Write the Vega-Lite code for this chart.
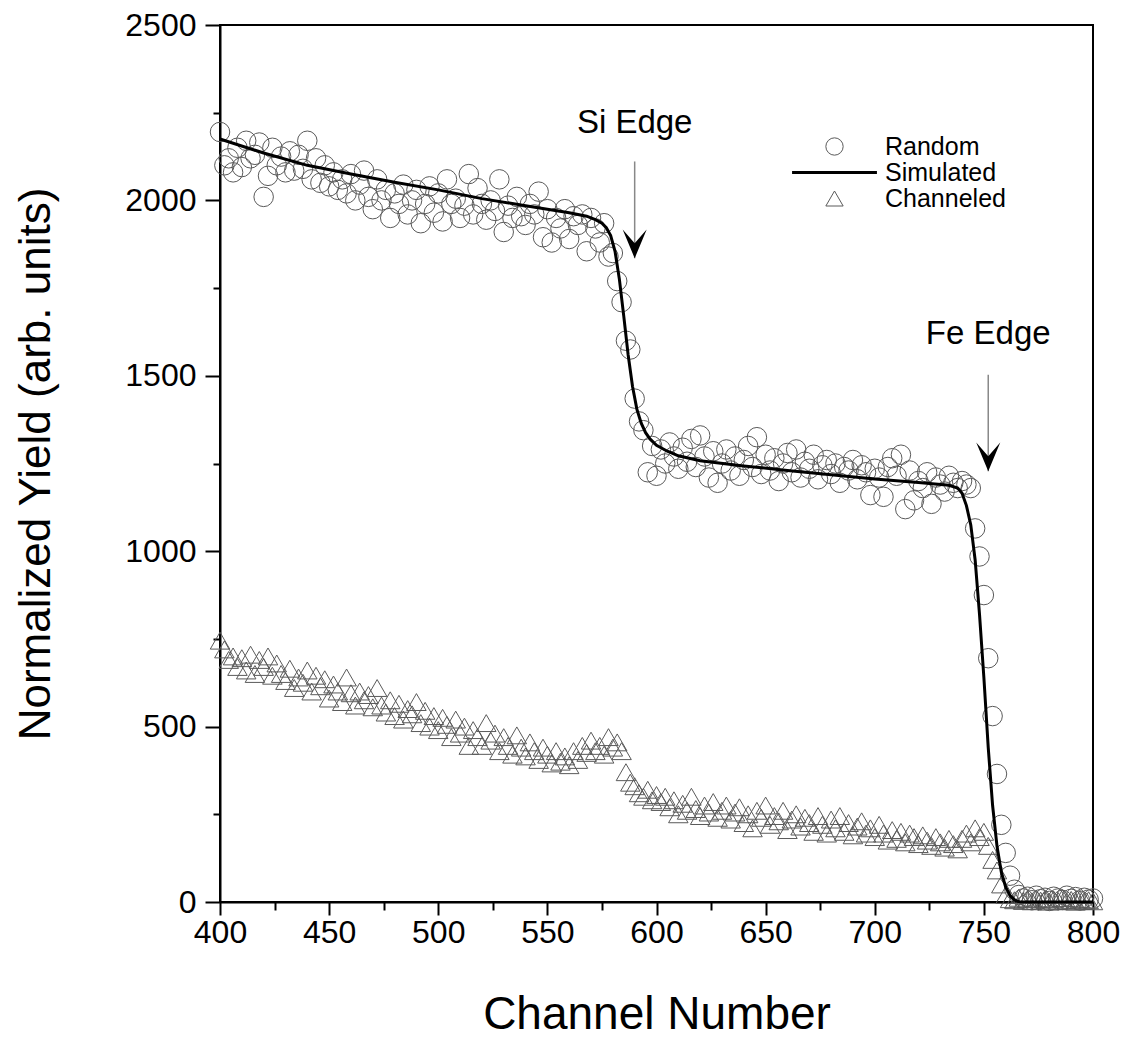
{
  "$schema": "https://vega.github.io/schema/vega-lite/v6.json",
  "autosize": "none",
  "width": 873,
  "height": 877,
  "padding": {"left": 220, "top": 25, "right": 37, "bottom": 149},
  "background": "white",
  "config": {
    "view": {"stroke": "black", "strokeWidth": 2},
    "font": "Liberation Sans",
    "axis": {
      "labelFont": "Liberation Sans", "titleFont": "Liberation Sans",
      "labelFontSize": 32, "titleFontWeight": "normal",
      "labelColor": "black", "titleColor": "black",
      "domainColor": "black", "domainWidth": 2,
      "tickColor": "black", "tickWidth": 2, "grid": false
    },
    "legend": {"labelFont": "Liberation Sans", "labelFontSize": 25, "labelColor": "black"}
  },
  "datasets": {
    "pts": [
      {"x":400,"y":2195,"s":"Random"},{"x":402,"y":2100,"s":"Random"},{"x":404,"y":2120,"s":"Random"},{"x":406,"y":2080,"s":"Random"},{"x":408,"y":2150,"s":"Random"},{"x":410,"y":2095,"s":"Random"},{"x":412,"y":2170,"s":"Random"},{"x":414,"y":2120,"s":"Random"},{"x":416,"y":2130,"s":"Random"},{"x":418,"y":2165,"s":"Random"},
      {"x":420,"y":2010,"s":"Random"},{"x":422,"y":2070,"s":"Random"},{"x":424,"y":2150,"s":"Random"},{"x":426,"y":2100,"s":"Random"},{"x":428,"y":2125,"s":"Random"},{"x":430,"y":2080,"s":"Random"},{"x":432,"y":2140,"s":"Random"},{"x":434,"y":2085,"s":"Random"},{"x":436,"y":2130,"s":"Random"},{"x":438,"y":2090,"s":"Random"},
      {"x":440,"y":2170,"s":"Random"},{"x":442,"y":2060,"s":"Random"},{"x":444,"y":2120,"s":"Random"},{"x":446,"y":2050,"s":"Random"},{"x":448,"y":2100,"s":"Random"},{"x":450,"y":2040,"s":"Random"},{"x":452,"y":2080,"s":"Random"},{"x":454,"y":2030,"s":"Random"},{"x":456,"y":2060,"s":"Random"},{"x":458,"y":2020,"s":"Random"},
      {"x":460,"y":2075,"s":"Random"},{"x":462,"y":2000,"s":"Random"},{"x":464,"y":2045,"s":"Random"},{"x":466,"y":2085,"s":"Random"},{"x":468,"y":2010,"s":"Random"},{"x":470,"y":1975,"s":"Random"},{"x":472,"y":2060,"s":"Random"},{"x":474,"y":2000,"s":"Random"},{"x":476,"y":2030,"s":"Random"},{"x":478,"y":1950,"s":"Random"},
      {"x":480,"y":2020,"s":"Random"},{"x":482,"y":1990,"s":"Random"},{"x":484,"y":2045,"s":"Random"},{"x":486,"y":1960,"s":"Random"},{"x":488,"y":2000,"s":"Random"},{"x":490,"y":2030,"s":"Random"},{"x":492,"y":1935,"s":"Random"},{"x":494,"y":1990,"s":"Random"},{"x":496,"y":2040,"s":"Random"},{"x":498,"y":1965,"s":"Random"},
      {"x":500,"y":2020,"s":"Random"},{"x":502,"y":1940,"s":"Random"},{"x":504,"y":2060,"s":"Random"},{"x":506,"y":1990,"s":"Random"},{"x":508,"y":2005,"s":"Random"},{"x":510,"y":1950,"s":"Random"},{"x":512,"y":1985,"s":"Random"},{"x":514,"y":2075,"s":"Random"},{"x":516,"y":1960,"s":"Random"},{"x":518,"y":2035,"s":"Random"},
      {"x":520,"y":1990,"s":"Random"},{"x":522,"y":1945,"s":"Random"},{"x":524,"y":2000,"s":"Random"},{"x":526,"y":1970,"s":"Random"},{"x":528,"y":2060,"s":"Random"},{"x":530,"y":1910,"s":"Random"},{"x":532,"y":1985,"s":"Random"},{"x":534,"y":1950,"s":"Random"},{"x":536,"y":2010,"s":"Random"},{"x":538,"y":1955,"s":"Random"},
      {"x":540,"y":1930,"s":"Random"},{"x":542,"y":1990,"s":"Random"},{"x":544,"y":1960,"s":"Random"},{"x":546,"y":2025,"s":"Random"},{"x":548,"y":1895,"s":"Random"},{"x":550,"y":1975,"s":"Random"},{"x":552,"y":1880,"s":"Random"},{"x":554,"y":1950,"s":"Random"},{"x":556,"y":1920,"s":"Random"},{"x":558,"y":1975,"s":"Random"},
      {"x":560,"y":1890,"s":"Random"},{"x":562,"y":1955,"s":"Random"},{"x":564,"y":1930,"s":"Random"},{"x":566,"y":1960,"s":"Random"},{"x":568,"y":1855,"s":"Random"},{"x":570,"y":1950,"s":"Random"},{"x":572,"y":1920,"s":"Random"},{"x":574,"y":1880,"s":"Random"},{"x":576,"y":1935,"s":"Random"},{"x":578,"y":1840,"s":"Random"},
      {"x":580,"y":1850,"s":"Random"},{"x":582,"y":1770,"s":"Random"},{"x":584,"y":1710,"s":"Random"},{"x":586,"y":1600,"s":"Random"},{"x":588,"y":1575,"s":"Random"},{"x":590,"y":1435,"s":"Random"},{"x":592,"y":1370,"s":"Random"},{"x":594,"y":1345,"s":"Random"},{"x":596,"y":1225,"s":"Random"},{"x":598,"y":1300,"s":"Random"},
      {"x":600,"y":1215,"s":"Random"},{"x":602,"y":1290,"s":"Random"},{"x":604,"y":1250,"s":"Random"},{"x":606,"y":1310,"s":"Random"},{"x":608,"y":1270,"s":"Random"},{"x":610,"y":1235,"s":"Random"},{"x":612,"y":1295,"s":"Random"},{"x":614,"y":1255,"s":"Random"},{"x":616,"y":1320,"s":"Random"},{"x":618,"y":1240,"s":"Random"},
      {"x":620,"y":1330,"s":"Random"},{"x":622,"y":1270,"s":"Random"},{"x":624,"y":1210,"s":"Random"},{"x":626,"y":1285,"s":"Random"},{"x":628,"y":1195,"s":"Random"},{"x":630,"y":1250,"s":"Random"},{"x":632,"y":1290,"s":"Random"},{"x":634,"y":1230,"s":"Random"},{"x":636,"y":1270,"s":"Random"},{"x":638,"y":1215,"s":"Random"},
      {"x":640,"y":1260,"s":"Random"},{"x":642,"y":1300,"s":"Random"},{"x":644,"y":1240,"s":"Random"},{"x":646,"y":1325,"s":"Random"},{"x":648,"y":1220,"s":"Random"},{"x":650,"y":1275,"s":"Random"},{"x":652,"y":1230,"s":"Random"},{"x":654,"y":1265,"s":"Random"},{"x":656,"y":1200,"s":"Random"},{"x":658,"y":1250,"s":"Random"},
      {"x":660,"y":1280,"s":"Random"},{"x":662,"y":1225,"s":"Random"},{"x":664,"y":1290,"s":"Random"},{"x":666,"y":1210,"s":"Random"},{"x":668,"y":1255,"s":"Random"},{"x":670,"y":1235,"s":"Random"},{"x":672,"y":1275,"s":"Random"},{"x":674,"y":1205,"s":"Random"},{"x":676,"y":1245,"s":"Random"},{"x":678,"y":1260,"s":"Random"},
      {"x":680,"y":1220,"s":"Random"},{"x":682,"y":1250,"s":"Random"},{"x":684,"y":1195,"s":"Random"},{"x":686,"y":1240,"s":"Random"},{"x":688,"y":1230,"s":"Random"},{"x":690,"y":1260,"s":"Random"},{"x":692,"y":1205,"s":"Random"},{"x":694,"y":1245,"s":"Random"},{"x":696,"y":1225,"s":"Random"},{"x":698,"y":1160,"s":"Random"},
      {"x":700,"y":1235,"s":"Random"},{"x":702,"y":1210,"s":"Random"},{"x":704,"y":1155,"s":"Random"},{"x":706,"y":1240,"s":"Random"},{"x":708,"y":1265,"s":"Random"},{"x":710,"y":1215,"s":"Random"},{"x":712,"y":1275,"s":"Random"},{"x":714,"y":1120,"s":"Random"},{"x":716,"y":1230,"s":"Random"},{"x":718,"y":1145,"s":"Random"},
      {"x":720,"y":1200,"s":"Random"},{"x":722,"y":1180,"s":"Random"},{"x":724,"y":1225,"s":"Random"},{"x":726,"y":1135,"s":"Random"},{"x":728,"y":1210,"s":"Random"},{"x":730,"y":1190,"s":"Random"},{"x":732,"y":1170,"s":"Random"},{"x":734,"y":1215,"s":"Random"},{"x":736,"y":1195,"s":"Random"},{"x":738,"y":1180,"s":"Random"},
      {"x":740,"y":1200,"s":"Random"},{"x":742,"y":1190,"s":"Random"},{"x":744,"y":1180,"s":"Random"},{"x":746,"y":1065,"s":"Random"},{"x":748,"y":985,"s":"Random"},{"x":750,"y":875,"s":"Random"},{"x":752,"y":695,"s":"Random"},{"x":754,"y":530,"s":"Random"},{"x":756,"y":365,"s":"Random"},{"x":758,"y":220,"s":"Random"},
      {"x":760,"y":140,"s":"Random"},{"x":762,"y":75,"s":"Random"},{"x":764,"y":35,"s":"Random"},{"x":766,"y":20,"s":"Random"},{"x":768,"y":10,"s":"Random"},{"x":770,"y":15,"s":"Random"},{"x":772,"y":5,"s":"Random"},{"x":774,"y":18,"s":"Random"},{"x":776,"y":8,"s":"Random"},{"x":778,"y":12,"s":"Random"},
      {"x":780,"y":3,"s":"Random"},{"x":782,"y":15,"s":"Random"},{"x":784,"y":10,"s":"Random"},{"x":786,"y":6,"s":"Random"},{"x":788,"y":18,"s":"Random"},{"x":790,"y":9,"s":"Random"},{"x":792,"y":14,"s":"Random"},{"x":794,"y":4,"s":"Random"},{"x":796,"y":12,"s":"Random"},{"x":798,"y":7,"s":"Random"},{"x":800,"y":10,"s":"Random"},

      {"x":400,"y":745,"s":"Channeled"},{"x":402,"y":720,"s":"Channeled"},{"x":404,"y":690,"s":"Channeled"},{"x":406,"y":700,"s":"Channeled"},{"x":408,"y":670,"s":"Channeled"},{"x":410,"y":695,"s":"Channeled"},{"x":412,"y":660,"s":"Channeled"},{"x":414,"y":705,"s":"Channeled"},{"x":416,"y":650,"s":"Channeled"},{"x":418,"y":690,"s":"Channeled"},
      {"x":420,"y":670,"s":"Channeled"},{"x":422,"y":700,"s":"Channeled"},{"x":424,"y":645,"s":"Channeled"},{"x":426,"y":680,"s":"Channeled"},{"x":428,"y":650,"s":"Channeled"},{"x":430,"y":630,"s":"Channeled"},{"x":432,"y":665,"s":"Channeled"},{"x":434,"y":610,"s":"Channeled"},{"x":436,"y":640,"s":"Channeled"},{"x":438,"y":625,"s":"Channeled"},
      {"x":440,"y":660,"s":"Channeled"},{"x":442,"y":600,"s":"Channeled"},{"x":444,"y":645,"s":"Channeled"},{"x":446,"y":615,"s":"Channeled"},{"x":448,"y":635,"s":"Channeled"},{"x":450,"y":580,"s":"Channeled"},{"x":452,"y":620,"s":"Channeled"},{"x":454,"y":600,"s":"Channeled"},{"x":456,"y":570,"s":"Channeled"},{"x":458,"y":640,"s":"Channeled"},
      {"x":460,"y":595,"s":"Channeled"},{"x":462,"y":560,"s":"Channeled"},{"x":464,"y":600,"s":"Channeled"},{"x":466,"y":575,"s":"Channeled"},{"x":468,"y":590,"s":"Channeled"},{"x":470,"y":555,"s":"Channeled"},{"x":472,"y":610,"s":"Channeled"},{"x":474,"y":560,"s":"Channeled"},{"x":476,"y":540,"s":"Channeled"},{"x":478,"y":575,"s":"Channeled"},
      {"x":480,"y":530,"s":"Channeled"},{"x":482,"y":565,"s":"Channeled"},{"x":484,"y":520,"s":"Channeled"},{"x":486,"y":550,"s":"Channeled"},{"x":488,"y":535,"s":"Channeled"},{"x":490,"y":570,"s":"Channeled"},{"x":492,"y":510,"s":"Channeled"},{"x":494,"y":545,"s":"Channeled"},{"x":496,"y":500,"s":"Channeled"},{"x":498,"y":530,"s":"Channeled"},
      {"x":500,"y":490,"s":"Channeled"},{"x":502,"y":525,"s":"Channeled"},{"x":504,"y":505,"s":"Channeled"},{"x":506,"y":470,"s":"Channeled"},{"x":508,"y":520,"s":"Channeled"},{"x":510,"y":480,"s":"Channeled"},{"x":512,"y":500,"s":"Channeled"},{"x":514,"y":445,"s":"Channeled"},{"x":516,"y":490,"s":"Channeled"},{"x":518,"y":470,"s":"Channeled"},
      {"x":520,"y":445,"s":"Channeled"},{"x":522,"y":510,"s":"Channeled"},{"x":524,"y":460,"s":"Channeled"},{"x":526,"y":480,"s":"Channeled"},{"x":528,"y":430,"s":"Channeled"},{"x":530,"y":470,"s":"Channeled"},{"x":532,"y":445,"s":"Channeled"},{"x":534,"y":420,"s":"Channeled"},{"x":536,"y":475,"s":"Channeled"},{"x":538,"y":440,"s":"Channeled"},
      {"x":540,"y":415,"s":"Channeled"},{"x":542,"y":455,"s":"Channeled"},{"x":544,"y":430,"s":"Channeled"},{"x":546,"y":405,"s":"Channeled"},{"x":548,"y":440,"s":"Channeled"},{"x":550,"y":420,"s":"Channeled"},{"x":552,"y":395,"s":"Channeled"},{"x":554,"y":430,"s":"Channeled"},{"x":556,"y":400,"s":"Channeled"},{"x":558,"y":415,"s":"Channeled"},
      {"x":560,"y":390,"s":"Channeled"},{"x":562,"y":430,"s":"Channeled"},{"x":564,"y":405,"s":"Channeled"},{"x":566,"y":445,"s":"Channeled"},{"x":568,"y":425,"s":"Channeled"},{"x":570,"y":460,"s":"Channeled"},{"x":572,"y":430,"s":"Channeled"},{"x":574,"y":445,"s":"Channeled"},{"x":576,"y":420,"s":"Channeled"},{"x":578,"y":470,"s":"Channeled"},
      {"x":580,"y":440,"s":"Channeled"},{"x":582,"y":455,"s":"Channeled"},{"x":584,"y":430,"s":"Channeled"},{"x":586,"y":370,"s":"Channeled"},{"x":588,"y":340,"s":"Channeled"},{"x":590,"y":330,"s":"Channeled"},{"x":592,"y":310,"s":"Channeled"},{"x":594,"y":300,"s":"Channeled"},{"x":596,"y":320,"s":"Channeled"},{"x":598,"y":290,"s":"Channeled"},
      {"x":600,"y":305,"s":"Channeled"},{"x":602,"y":285,"s":"Channeled"},{"x":604,"y":300,"s":"Channeled"},{"x":606,"y":270,"s":"Channeled"},{"x":608,"y":290,"s":"Channeled"},{"x":610,"y":250,"s":"Channeled"},{"x":612,"y":280,"s":"Channeled"},{"x":614,"y":260,"s":"Channeled"},{"x":616,"y":300,"s":"Channeled"},{"x":618,"y":265,"s":"Channeled"},
      {"x":620,"y":245,"s":"Channeled"},{"x":622,"y":275,"s":"Channeled"},{"x":624,"y":255,"s":"Channeled"},{"x":626,"y":285,"s":"Channeled"},{"x":628,"y":240,"s":"Channeled"},{"x":630,"y":260,"s":"Channeled"},{"x":632,"y":275,"s":"Channeled"},{"x":634,"y":235,"s":"Channeled"},{"x":636,"y":255,"s":"Channeled"},{"x":638,"y":270,"s":"Channeled"},
      {"x":640,"y":225,"s":"Channeled"},{"x":642,"y":250,"s":"Channeled"},{"x":644,"y":210,"s":"Channeled"},{"x":646,"y":260,"s":"Channeled"},{"x":648,"y":240,"s":"Channeled"},{"x":650,"y":275,"s":"Channeled"},{"x":652,"y":220,"s":"Channeled"},{"x":654,"y":245,"s":"Channeled"},{"x":656,"y":230,"s":"Channeled"},{"x":658,"y":260,"s":"Channeled"},
      {"x":660,"y":205,"s":"Channeled"},{"x":662,"y":235,"s":"Channeled"},{"x":664,"y":250,"s":"Channeled"},{"x":666,"y":215,"s":"Channeled"},{"x":668,"y":240,"s":"Channeled"},{"x":670,"y":225,"s":"Channeled"},{"x":672,"y":200,"s":"Channeled"},{"x":674,"y":245,"s":"Channeled"},{"x":676,"y":220,"s":"Channeled"},{"x":678,"y":195,"s":"Channeled"},
      {"x":680,"y":235,"s":"Channeled"},{"x":682,"y":210,"s":"Channeled"},{"x":684,"y":245,"s":"Channeled"},{"x":686,"y":200,"s":"Channeled"},{"x":688,"y":225,"s":"Channeled"},{"x":690,"y":190,"s":"Channeled"},{"x":692,"y":215,"s":"Channeled"},{"x":694,"y":230,"s":"Channeled"},{"x":696,"y":195,"s":"Channeled"},{"x":698,"y":210,"s":"Channeled"},
      {"x":700,"y":185,"s":"Channeled"},{"x":702,"y":220,"s":"Channeled"},{"x":704,"y":195,"s":"Channeled"},{"x":706,"y":175,"s":"Channeled"},{"x":708,"y":205,"s":"Channeled"},{"x":710,"y":180,"s":"Channeled"},{"x":712,"y":200,"s":"Channeled"},{"x":714,"y":170,"s":"Channeled"},{"x":716,"y":195,"s":"Channeled"},{"x":718,"y":185,"s":"Channeled"},
      {"x":720,"y":165,"s":"Channeled"},{"x":722,"y":190,"s":"Channeled"},{"x":724,"y":175,"s":"Channeled"},{"x":726,"y":160,"s":"Channeled"},{"x":728,"y":185,"s":"Channeled"},{"x":730,"y":170,"s":"Channeled"},{"x":732,"y":155,"s":"Channeled"},{"x":734,"y":180,"s":"Channeled"},{"x":736,"y":165,"s":"Channeled"},{"x":738,"y":150,"s":"Channeled"},
      {"x":740,"y":180,"s":"Channeled"},{"x":742,"y":195,"s":"Channeled"},{"x":744,"y":170,"s":"Channeled"},{"x":746,"y":210,"s":"Channeled"},{"x":748,"y":185,"s":"Channeled"},{"x":750,"y":200,"s":"Channeled"},{"x":752,"y":160,"s":"Channeled"},{"x":754,"y":120,"s":"Channeled"},{"x":756,"y":90,"s":"Channeled"},{"x":758,"y":50,"s":"Channeled"},
      {"x":760,"y":20,"s":"Channeled"},{"x":762,"y":8,"s":"Channeled"},{"x":764,"y":5,"s":"Channeled"},{"x":766,"y":12,"s":"Channeled"},{"x":768,"y":3,"s":"Channeled"},{"x":770,"y":8,"s":"Channeled"},{"x":772,"y":2,"s":"Channeled"},{"x":774,"y":10,"s":"Channeled"},{"x":776,"y":4,"s":"Channeled"},{"x":778,"y":9,"s":"Channeled"},
      {"x":780,"y":1,"s":"Channeled"},{"x":782,"y":7,"s":"Channeled"},{"x":784,"y":3,"s":"Channeled"},{"x":786,"y":11,"s":"Channeled"},{"x":788,"y":2,"s":"Channeled"},{"x":790,"y":6,"s":"Channeled"},{"x":792,"y":1,"s":"Channeled"},{"x":794,"y":8,"s":"Channeled"},{"x":796,"y":3,"s":"Channeled"},{"x":798,"y":5,"s":"Channeled"},{"x":800,"y":2,"s":"Channeled"}
    ],
    "sim": [
      {"x":400,"y":2175},{"x":420,"y":2135},{"x":440,"y":2100},{"x":460,"y":2075},{"x":480,"y":2052},{"x":500,"y":2030},{"x":520,"y":2005},{"x":540,"y":1985},{"x":560,"y":1965},{"x":568,"y":1955},{"x":572,"y":1945},{"x":575,"y":1935},{"x":577,"y":1922},{"x":579,"y":1900},{"x":581,"y":1855},{"x":583,"y":1775},{"x":585,"y":1670},{"x":587,"y":1560},{"x":589,"y":1470},{"x":591,"y":1405},{"x":593,"y":1365},{"x":595,"y":1338},{"x":597,"y":1320},{"x":600,"y":1302},{"x":605,"y":1285},{"x":610,"y":1272},{"x":620,"y":1258},{"x":640,"y":1243},{"x":660,"y":1230},{"x":680,"y":1218},{"x":700,"y":1206},{"x":720,"y":1196},{"x":734,"y":1188},{"x":738,"y":1180},{"x":740,"y":1165},{"x":742,"y":1130},{"x":744,"y":1075},{"x":746,"y":975},{"x":748,"y":820},{"x":750,"y":640},{"x":752,"y":440},{"x":754,"y":275},{"x":756,"y":160},{"x":758,"y":85},{"x":760,"y":42},{"x":762,"y":18},{"x":764,"y":6},{"x":766,"y":1},{"x":770,"y":0},{"x":800,"y":0}
    ],
    "labels": [
      {"x":590,"y":2220,"t":"Si Edge"},
      {"x":752,"y":1618,"t":"Fe Edge"}
    ],
    "arrows": [
      {"x":590,"y":2111,"y2":1835},
      {"x":752,"y":1503,"y2":1228}
    ]
  },
  "resolve": {"axis": {"x": "independent", "y": "independent"}},
  "layer": [
    {
      "data": {"name": "pts"},
      "mark": {"type": "point", "filled": false, "clip": false, "size": 380, "opacity": 1},
      "encoding": {
        "x": {"field": "x", "type": "quantitative", "scale": {"domain": [400, 800], "nice": false, "zero": false},
          "axis": {"values": [400,450,500,550,600,650,700,750,800], "tickSize": 13, "labelPadding": 2, "title": "Channel Number", "titleFontSize": 46, "titlePadding": 44, "labelFlush": false, "labelOverlap": false, "orient": "bottom"}},
        "y": {"field": "y", "type": "quantitative", "scale": {"domain": [0, 2500], "nice": false},
          "axis": {"values": [0,500,1000,1500,2000,2500], "format": "d", "tickSize": 15, "labelPadding": 9, "title": "Normalized Yield (arb. units)", "titleFontSize": 44, "titlePadding": 66, "labelFlush": false, "labelOverlap": false, "orient": "left"}},
        "shape": {"field": "s", "type": "nominal",
          "scale": {"domain": ["Random", "Simulated", "Channeled"], "range": ["circle", "M-4.9,0L4.9,0", "triangle-up"]},
          "legend": {"orient": "none", "legendX": 602, "legendY": 109, "title": null, "symbolSize": 300, "labelOffset": 38, "rowPadding": 0}},
        "stroke": {"field": "s", "type": "nominal",
          "scale": {"domain": ["Random", "Simulated", "Channeled"], "range": ["#5a5a5a", "#000000", "#5a5a5a"]},
          "legend": {"orient": "none", "legendX": 602, "legendY": 109, "title": null, "symbolSize": 300, "labelOffset": 38, "rowPadding": 0}},
        "strokeWidth": {"field": "s", "type": "nominal",
          "scale": {"type": "ordinal", "domain": ["Random", "Simulated", "Channeled"], "range": [1, 3, 1]},
          "legend": {"orient": "none", "legendX": 602, "legendY": 109, "title": null, "symbolSize": 300, "labelOffset": 38, "rowPadding": 0}}
      }
    },
    {
      "data": {"name": "sim"},
      "mark": {"type": "line", "color": "black", "strokeWidth": 3},
      "encoding": {
        "x": {"field": "x", "type": "quantitative",
          "axis": {"values": [425,475,525,575,625,675,725,775], "tickSize": 8, "labels": false, "domain": false, "title": null, "orient": "bottom"}},
        "y": {"field": "y", "type": "quantitative",
          "axis": {"values": [250,750,1250,1750,2250], "tickSize": 7, "labels": false, "domain": false, "title": null, "orient": "left"}}
      }
    },
    {
      "data": {"name": "arrows"},
      "mark": {"type": "rule", "color": "#888888", "strokeWidth": 1.5},
      "encoding": {
        "x": {"field": "x", "type": "quantitative", "axis": null},
        "y": {"field": "y", "type": "quantitative", "axis": null},
        "y2": {"field": "y2"}
      }
    },
    {
      "data": {"name": "arrows"},
      "mark": {"type": "point", "shape": "M0,0L-1,-2.4L0,-1.25L1,-2.4Z", "filled": true, "color": "black", "size": 576, "opacity": 1},
      "encoding": {
        "x": {"field": "x", "type": "quantitative", "axis": null},
        "y": {"field": "y2", "type": "quantitative", "axis": null}
      }
    },
    {
      "data": {"name": "labels"},
      "mark": {"type": "text", "font": "Liberation Sans", "fontSize": 33, "color": "black", "align": "center", "baseline": "middle"},
      "encoding": {
        "x": {"field": "x", "type": "quantitative", "axis": null},
        "y": {"field": "y", "type": "quantitative", "axis": null},
        "text": {"field": "t"}
      }
    }
  ]
}
